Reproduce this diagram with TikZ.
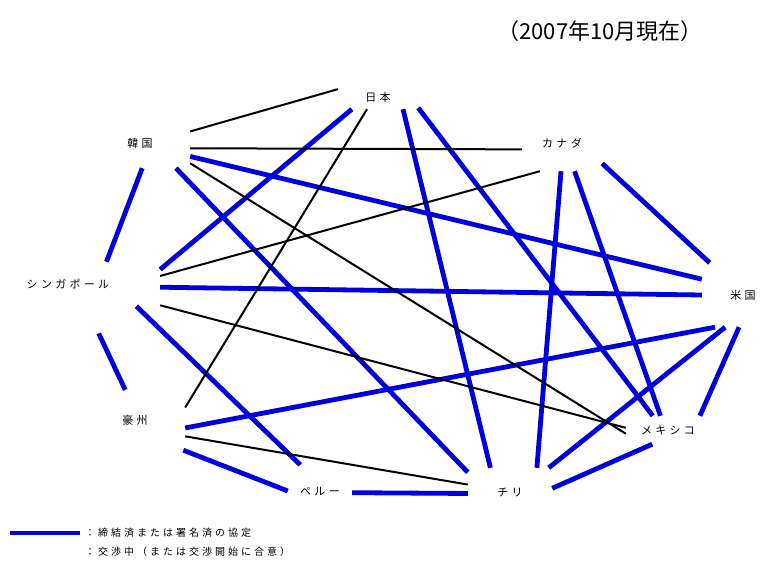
\documentclass[tikz,border=0pt]{standalone}
\usepackage{fontspec}
\usepackage{tikz}

\newfontfamily\jpfont{Noto Sans CJK JP}[LetterSpace=30]
\newfontfamily\titlefont{Noto Sans CJK JP}
\definecolor{ftablue}{RGB}{0,0,220}

\begin{document}
\begin{tikzpicture}[
    x=1pt, y=-1pt,
    country/.style={inner sep=0pt, align=center,
                    font=\jpfont\fontsize{11}{13}\selectfont},
    fta/.style={draw=ftablue, line width=4.8pt},
    nego/.style={draw=black, line width=2pt},
    legtext/.style={inner xsep=5pt, inner ysep=0pt, anchor=west,
                    font=\jpfont\fontsize{10}{12}\selectfont},
  ]
  \useasboundingbox (0,0) rectangle (760,563);

  % === Title ===
  \node[font=\titlefont\fontsize{22}{26}\selectfont] (title) at (600,31) {（2007年10月現在）};

  % === Countries ===
  \node[country, minimum width=80pt,  minimum height=24pt] (jp) at (378,97)  {日本};
  \node[country, minimum width=100pt, minimum height=50pt] (kr) at (140,143) {韓国};
  \node[country, minimum width=80pt,  minimum height=56pt] (ca) at (562,143) {カナダ};
  \node[country, minimum width=184pt, minimum height=44pt] (sg) at (68,284)  {シンガポール};
  \node[country, minimum width=82pt,  minimum height=64pt] (us) at (743,295) {米国};
  \node[country, minimum width=100pt, minimum height=60pt] (au) at (135,420) {豪州};
  \node[country, minimum width=84pt,  minimum height=28pt] (mx) at (668,430) {メキシコ};
  \node[country, minimum width=64pt,  minimum height=52pt] (pe) at (320,491) {ペルー};
  \node[country, minimum width=84pt,  minimum height=48pt] (cl) at (510,492) {チリ};

  % === Signed / in force ===
  \draw[fta] (kr.-85.4) -- (sg.30.7);
  \draw[fta, shorten <=30pt] (sg.-51.2) -- (au.108.4);
  \draw[fta] (au.-32.6) -- (pe.180);
  \draw[fta] (pe.-3.6) -- (cl.-178.4);
  \draw[fta] (cl.5.7) -- (mx.-138.2);
  \draw[fta] (mx.24.4) -- (us.-97.1);
  \draw[fta] (us.136) -- (ca.-27.5);
  \draw[fta] (jp.-155.2) -- (sg.9.9);
  \draw[fta] (jp.-26.6) -- (cl.129.8);
  \draw[fta] (jp.-15.9) -- (mx.137.3);
  \draw[fta] (ca.-66.2) -- (mx.118);
  \draw[fta] (ca.-92.9) -- (cl.42);
  \draw[fta] (kr.-15.8) -- (us.159.3);
  \draw[fta] (kr.-35.5) -- (cl.155);
  \draw[fta] (sg.-2.5) -- (us.180);
  \draw[fta] (sg.-18) -- (pe.127.6);
  \draw[fta] (au.-9.1) -- (us.-131.2);
  \draw[fta] (us.-119.9) -- (cl.32.2);

  % === Under negotiation ===
  \draw[nego] (jp.169.7) -- (kr.13);
  \draw[nego] (jp.-132.3) -- (au.14);
  \draw[nego] (kr.-6.6) -- (ca.-171.3);
  \draw[nego] (kr.-22.6) -- (mx.-175.7);
  \draw[nego] (sg.5.6) -- (ca.-128.7);
  \draw[nego] (sg.-13.1) -- (mx.177);
  \draw[nego] (au.-18.8) -- (cl.170.8);

  % === Legend ===
  \coordinate (legA) at (10,533);
  \node[legtext] (leg1) at (80,533) {：締結済または署名済の協定};
  \node[legtext] (leg2) at (80,552) {：交渉中（または交渉開始に合意）};
  \draw[fta] (legA) -- (leg1.west);

\end{tikzpicture}
\end{document}
